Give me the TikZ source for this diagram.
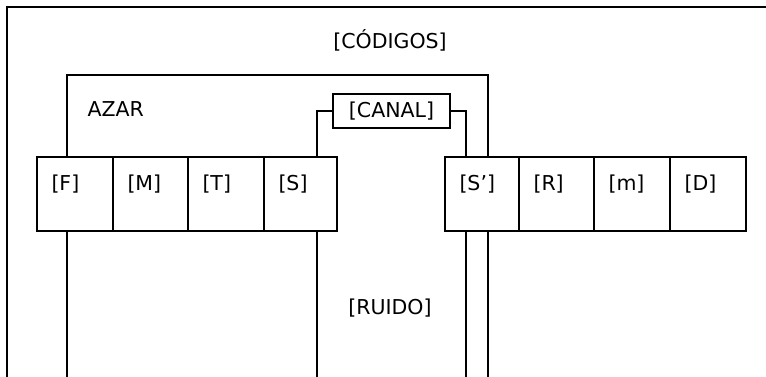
\documentclass[tikz,border=0pt]{standalone}
\usepackage{fontspec}
\setmainfont{DejaVu Sans}
\begin{document}
\begin{tikzpicture}[x=1pt, y=-1pt, line width=2pt, line join=miter,
  txt/.style={font=\fontsize{20.5}{24}\selectfont, inner sep=0pt},
  cell/.style={draw, line width=2pt, minimum height=74pt, inner sep=0pt, outer sep=0pt, anchor=north west},
  celltext/.style={txt, anchor=base west},
  wire/.style={draw, line width=2pt}]
\useasboundingbox (0,0) rectangle (766,377);

% outer frame of the code space
\draw (7,385) -- (7,7) -- (775,7);
\node[txt, anchor=base] (codigos) at (390,48.5) {[CÓDIGOS]};

% sender chain
\node[cell, minimum width=76pt] (F) at (37,157) {};
\node[cell, minimum width=75pt] (M) at (113,157) {};
\node[cell, minimum width=76pt] (T) at (188,157) {};
\node[cell, minimum width=73pt] (S) at (264,157) {};
% receiver chain
\node[cell, minimum width=74pt] (Sp) at (445,157) {};
\node[cell, minimum width=75pt] (R) at (519,157) {};
\node[cell, minimum width=76pt] (m) at (594,157) {};
\node[cell, minimum width=76pt] (D) at (670,157) {};

\foreach \c/\t in {F/[F], M/[M], T/[T], S/[S], Sp/[S’], R/[R], m/[m], D/[D]}
  \node[celltext] (\c txt) at ([xshift=13.5pt]\c.west |- 0,190) {\t};

% channel
\node[draw, txt, line width=2pt, minimum width=117pt, minimum height=34pt] (canal) at (391.5,111) {[CANAL]};

% taps and free ends
\coordinate (azarL) at (67,75);
\coordinate (azarR) at (488,75);
\coordinate (sTap) at (317,0);
\coordinate (spTap) at (466,0);
\coordinate (bottom) at (0,385);

% chance loop
\draw[wire] (F.north -| azarL) -- (azarL) -- (azarR) -- (Sp.north -| azarR);
\node[txt, anchor=base west] (azar) at (86.5,117) {AZAR};

% channel links
\draw[wire] (canal.west) -| (S.north -| sTap);
\draw[wire] (canal.east) -| (Sp.north -| spTap);

% lines running down
\draw[wire] (F.south -| azarL) -- (bottom -| azarL);
\draw[wire] (S.south -| sTap) -- (bottom -| sTap);
\draw[wire] (Sp.south -| spTap) -- (bottom -| spTap);
\draw[wire] (Sp.south -| azarR) -- (bottom -| azarR);

\node[txt, anchor=base] (ruido) at (390,314) {[RUIDO]};
\end{tikzpicture}
\end{document}
